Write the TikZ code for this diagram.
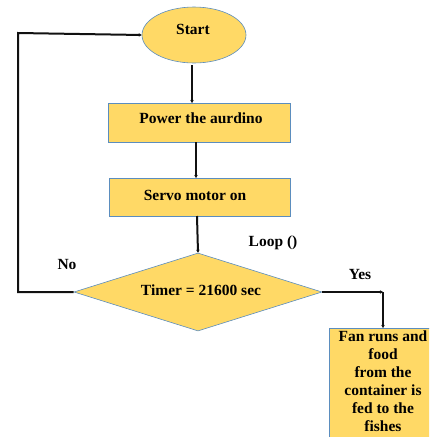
\documentclass[tikz,border=0pt]{standalone}
\usepackage{fontspec}
\setmainfont{Liberation Serif}
\usetikzlibrary{shapes.geometric,arrows.meta}
\definecolor{boxfill}{HTML}{FFD966}
\definecolor{boxline}{HTML}{5B8DBE}
\definecolor{wire}{HTML}{111111}
\begin{document}
\begin{tikzpicture}[x=1pt,y=-1pt,
  every node/.style={font=\bfseries\fontsize{15.5}{18}\selectfont},
  shaped/.style={fill=boxfill,draw=boxline,line width=0.6pt,inner sep=0pt},
  procbox/.style={shaped,rectangle,minimum width=182pt,minimum height=39pt},
  flow/.style={draw=wire,line width=2pt},
  tip/.style={flow,-{Stealth[length=3pt,width=3.5pt]}},
  lbl/.style={inner sep=0pt}]
\useasboundingbox (0,0) rectangle (429,437);
\clip (0,0) rectangle (429,437);

% start terminal
\node[shaped,ellipse,minimum width=104pt,minimum height=56pt] (start) at (194,35) {};
\node[lbl] at (193,29) {Start};

% process boxes
\node[procbox] (power) at (199,122.5) {};
\node[lbl] at (201,118) {Power the aurdino};
\node[procbox,minimum width=181pt,minimum height=38pt] (servo) at (199.5,197) {};
\node[lbl] at (195,195) {Servo motor on};

% decision
\node[shaped,diamond,minimum width=248pt,minimum height=78pt,aspect=3.2] (timer) at (198,292) {};
\node[lbl] at (201,290) {Timer = 21600 sec};

% output box, running off the page edge
\node[shaped,rectangle,minimum width=108pt,minimum height=130pt,anchor=north west] (feed) at (329,328) {};
\node[lbl,align=center,anchor=north] at (383,331) {Fan runs and\\food\\from the\\container is\\fed to the\\fishes};

% labels
\node[lbl] at (273,243) {Loop ()};
\node[lbl] at (67,264) {No};
\node[lbl] at (360,274) {Yes};

% connectors
\coordinate (topleft) at (18,33);
\coordinate (botleft) at (18,292);
\coordinate (yescorner) at (383,292);
\draw[tip] (start.south -| 192,0) ++(0,2) -- (192,103);
\draw[tip] (196,142) -- (196,178);
\draw[tip] (197,216) -- (timer.north);
\draw[tip] (timer.west) -- (botleft) -- (topleft) -- (start.west);
\draw[tip] (timer.east) -- (yescorner);
\draw[tip] (yescorner) -- (feed.north -| yescorner);
\end{tikzpicture}
\end{document}
